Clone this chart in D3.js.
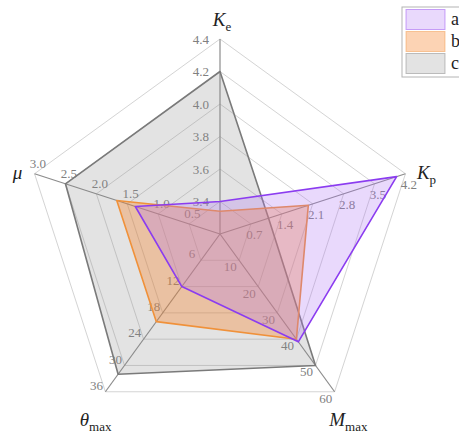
<!DOCTYPE html>
<html>
<head>
<meta charset="utf-8">
<script src="https://cdn.jsdelivr.net/npm/d3@7/dist/d3.min.js"></script>
<style>
    body { margin: 0; background: #fff; }
    svg { display: block; }
</style>
</head>
<body>
<svg></svg>
<script>
// assen, met de klok mee vanaf boven
const axisLetters = ["K", "K", "M", "θ", "μ"]
const axisSubs = ["e", "p", "max", "max", ""]
const axisMin = [3.2, 0, 0, 0, 0]

const keTicks = ["3.4", "3.6", "3.8", "4.0", "4.2", "4.4"]
const kpTicks = ["0.7", "1.4", "2.1", "2.8", "3.5", "4.2"]
const mMaxTicks = ["10", "20", "30", "40", "50", "60"]
const thetaTicks = ["6", "12", "18", "24", "30", "36"]
const muTicks = ["0.5", "1.0", "1.5", "2.0", "2.5", "3.0"]
const allTicks = [keTicks, kpTicks, mMaxTicks, thetaTicks, muTicks]

const seriesNames = ["a", "b", "c"]
const seriesA = [3.4, 4.0, 41, 12, 1.37]
const seriesB = [3.34, 2.0, 40, 20, 1.67]
const seriesC = [4.2, 1.1, 50, 32, 2.5]

const width = 459
const height = 434
const cx = 220
const cy = 234
const R = 195
const lettertype = "'Liberation Serif', 'Times New Roman', Times, 'DejaVu Serif', serif"

const svg = d3.select('svg')
    .attr("width", width)
    .attr("height", height)
    .style('font-family', lettertype)

const schalen = allTicks.map((ticks, i) => d3.scaleLinear()
    .domain([axisMin[i], +ticks[ticks.length - 1]])
    .range([0, R]))

const hoek = i => i * 2 * Math.PI / 5
const punt = (i, r) => [cx + r * Math.sin(hoek(i)), cy - r * Math.cos(hoek(i))]

const ringen = d3.range(1, 7).map(k => k * R / 6)

// raster
svg.append('g')
    .selectAll('polygon')
    .data(ringen)
    .enter()
    .append('polygon')
    .attr('points', r => d3.range(5).map(i => punt(i, r).join(',')).join(' '))
    .attr('fill', 'none')
    .attr('stroke', '#d4d4d4')
    .attr('stroke-width', 1)

// labels van de ticks
allTicks.forEach((ticks, i) => {
    const dx = Math.sin(hoek(i))
    const dy = -Math.cos(hoek(i))
    const kant = i === 0 ? -1 : 1
    const ox = -dy * 11 * kant
    const oy = dx * 11 * kant
    svg.append('g')
        .selectAll('text')
        .data(ticks)
        .enter()
        .append('text')
        .attr('x', t => punt(i, schalen[i](+t))[0] + ox)
        .attr('y', t => punt(i, schalen[i](+t))[1] + oy)
        .attr('text-anchor', i === 0 ? 'end' : 'middle')
        .attr('dy', '0.35em')
        .attr('font-size', 13)
        .attr('fill', '#808080')
        .text(t => t)
})

svg.append('g')
    .selectAll('line')
    .data(d3.range(5))
    .enter()
    .append('line')
    .attr('x1', cx)
    .attr('y1', cy)
    .attr('x2', i => punt(i, R)[0])
    .attr('y2', i => punt(i, R)[1])
    .attr('stroke', '#8c8c8c')
    .attr('stroke-width', 1.2)

const kleuren = [
    { fill: 'rgba(175,115,245,0.27)', stroke: '#8b3cf0' },
    { fill: 'rgba(245,130,40,0.35)', stroke: '#f0913a' },
    { fill: 'rgba(140,140,140,0.24)', stroke: '#7a7a7a' }
]
const reeksen = [seriesA, seriesB, seriesC]

const lijn = d3.line()
    .x(d => punt(d.i, schalen[d.i](d.v))[0])
    .y(d => punt(d.i, schalen[d.i](d.v))[1])
    .curve(d3.curveLinearClosed)

svg.append('g')
    .selectAll('path')
    .data([2, 1, 0])
    .enter()
    .append('path')
    .attr('d', s => lijn(reeksen[s].map((v, i) => ({ v, i }))))
    .attr('fill', s => kleuren[s].fill)
    .attr('stroke', s => kleuren[s].stroke)
    .attr('stroke-width', 1.6)
    .attr('stroke-linejoin', 'round')

// as titels, iets verder naar beneden onderaan
const titelPunt = i => {
    const [x, y] = punt(i, R + 20)
    return [x + 2, y + 6.5 * (1 - Math.cos(hoek(i)))]
}

const titels = svg.append('g')
    .selectAll('text')
    .data(d3.range(5))
    .enter()
    .append('text')
    .attr('x', i => titelPunt(i)[0])
    .attr('y', i => titelPunt(i)[1])
    .attr('text-anchor', 'middle')
    .attr('dy', '0.35em')
    .attr('font-size', 19)
    .attr('fill', '#222')

titels.append('tspan')
    .attr('font-style', 'italic')
    .text(i => axisLetters[i])
titels.append('tspan')
    .attr('font-size', 13)
    .attr('dy', 5)
    .text(i => axisSubs[i])

// legenda
const legenda = svg.append('g')
    .attr('transform', 'translate(402,7)')

legenda.append('rect')
    .attr('width', 70)
    .attr('height', 70)
    .attr('fill', '#fff')
    .attr('stroke', '#b4b4b4')

const items = legenda.selectAll('g')
    .data(seriesNames)
    .enter()
    .append('g')
    .attr('transform', (d, i) => `translate(4,${2.5 + i * 22})`)

items.append('rect')
    .attr('width', 39)
    .attr('height', 20)
    .attr('fill', (d, i) => kleuren[i].fill)
    .attr('stroke', (d, i) => d3.color(kleuren[i].stroke).copy({ opacity: 0.45 }))

items.append('text')
    .attr('x', 45)
    .attr('y', 15)
    .attr('font-size', 18)
    .attr('fill', '#222')
    .text(d => d)
</script>
</body>
</html>
